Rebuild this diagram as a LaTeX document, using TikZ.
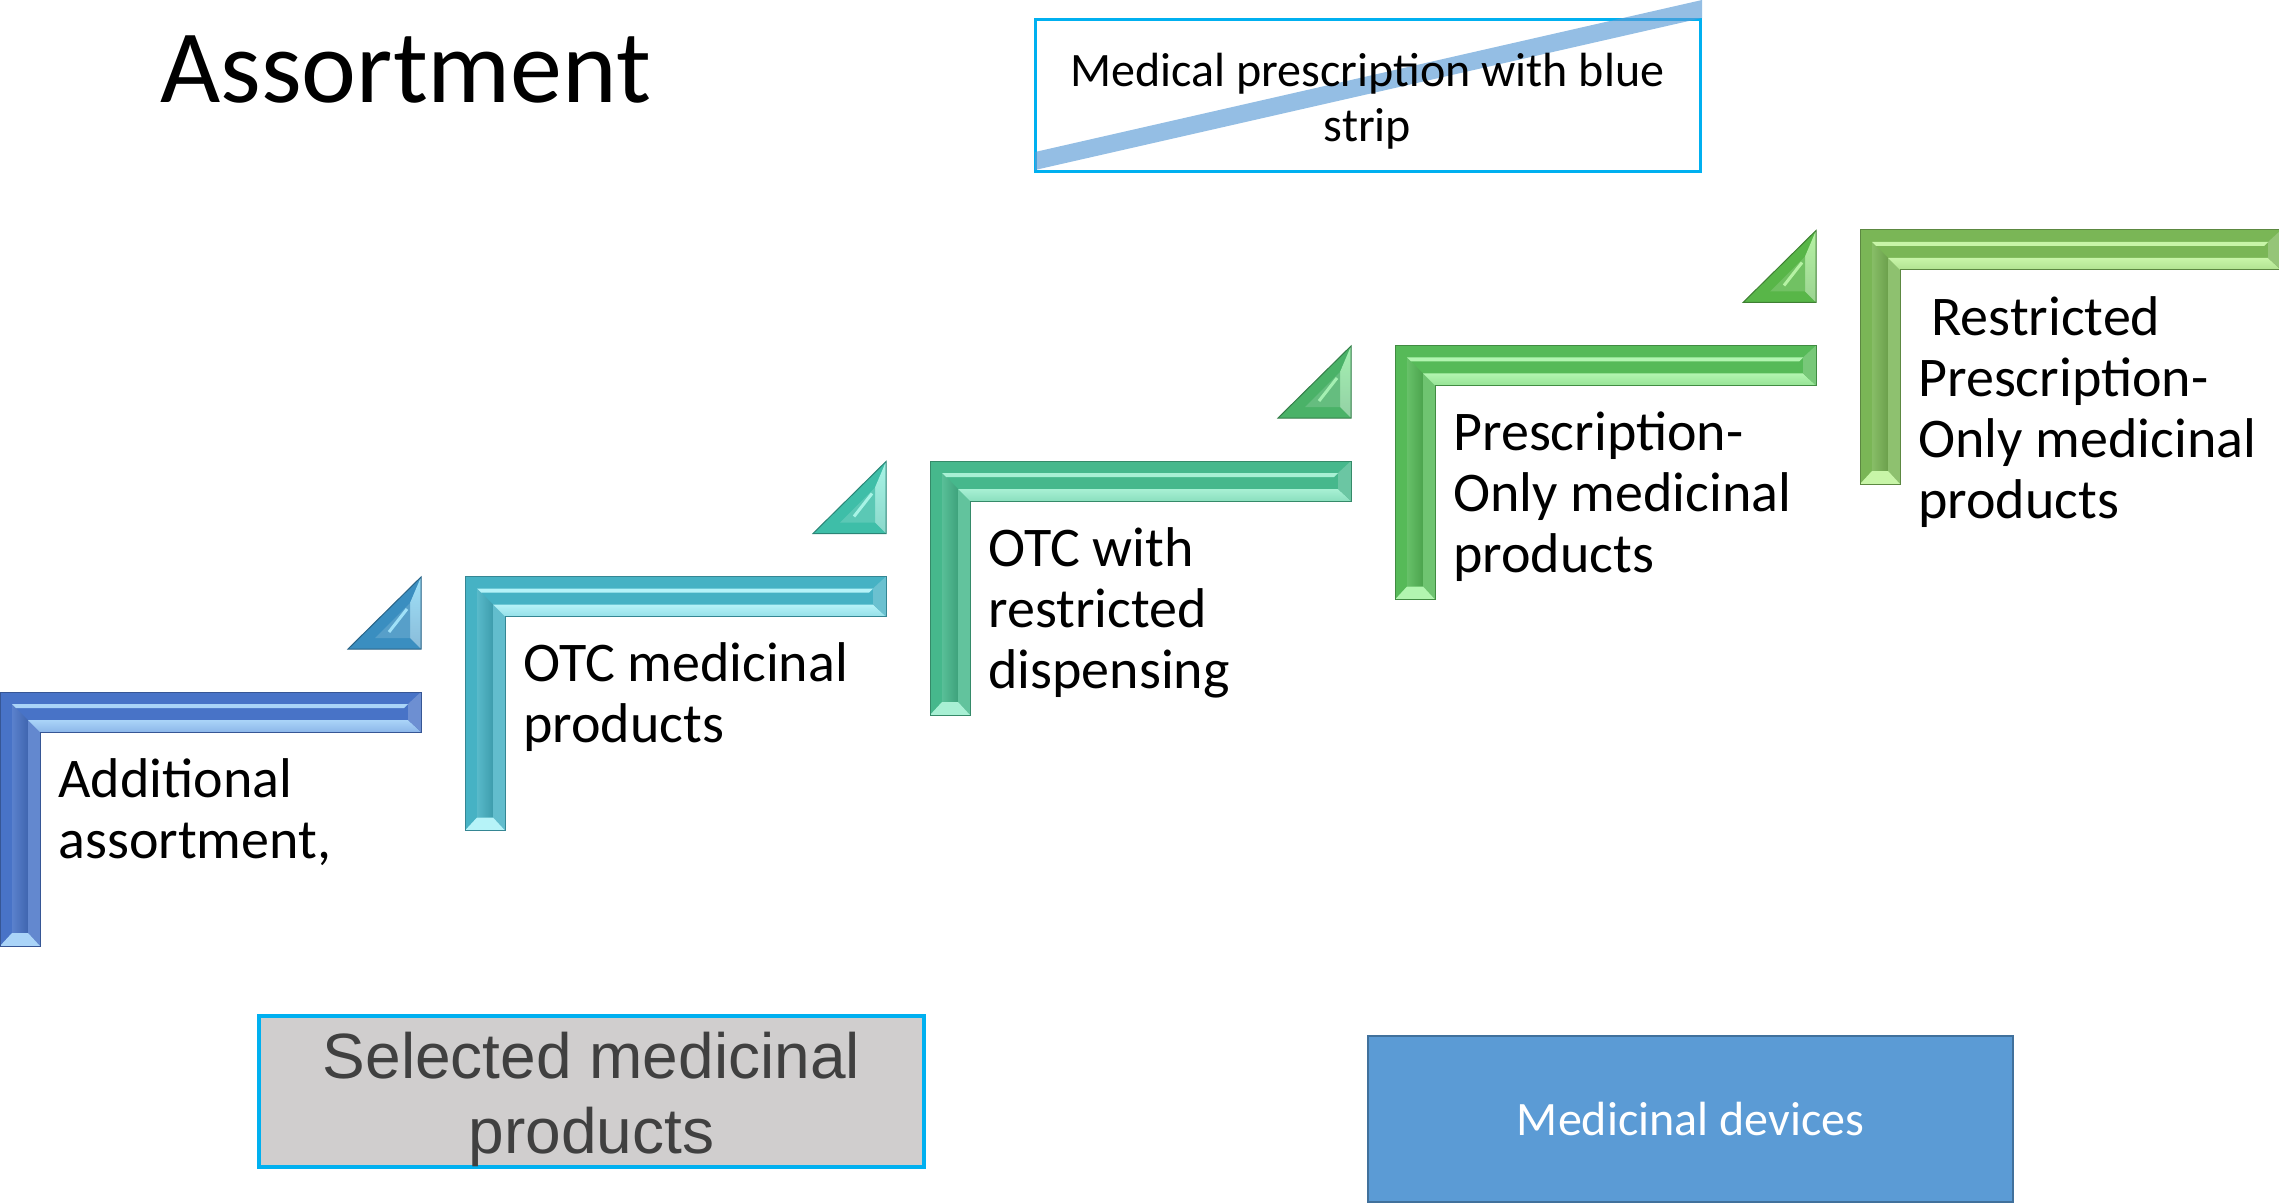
\documentclass[tikz,border=0pt]{standalone}
\usepackage{fontspec}
\setmainfont{Carlito}
\newfontfamily\selfont{Liberation Sans}

\definecolor{bluebase}{RGB}{72,115,199}
\definecolor{bluelite}{RGB}{170,212,248}
\definecolor{trione}{RGB}{58,142,192}
\definecolor{trionelite}{RGB}{160,225,248}
\definecolor{tealbase}{RGB}{70,178,196}
\definecolor{teallite}{RGB}{182,243,248}
\definecolor{tritwo}{RGB}{62,190,168}
\definecolor{tritwolite}{RGB}{168,244,230}
\definecolor{seabase}{RGB}{70,184,140}
\definecolor{sealite}{RGB}{168,240,212}
\definecolor{trithree}{RGB}{74,178,104}
\definecolor{trithreelite}{RGB}{165,240,178}
\definecolor{grnbase}{RGB}{86,186,88}
\definecolor{grnlite}{RGB}{178,245,176}
\definecolor{trifour}{RGB}{88,182,72}
\definecolor{trifourlite}{RGB}{182,242,164}
\definecolor{limebase}{RGB}{122,182,86}
\definecolor{limelite}{RGB}{200,245,168}
\definecolor{rxcyan}{RGB}{0,176,240}
\definecolor{stripblue}{RGB}{91,155,213}
\definecolor{selgray}{RGB}{208,206,206}
\definecolor{seltext}{RGB}{64,64,64}
\definecolor{devblue}{RGB}{91,155,213}
\definecolor{devedge}{RGB}{65,113,156}

\tikzset{
  steptext/.style={anchor=base west, align=left, inner sep=0pt, font=\fontsize{28}{30.5}\selectfont},
}

% one bevelled stair: left, top, base colour, light colour
\newcommand{\stairstep}[4]{%
  \begin{scope}[shift={(#1,#2)}]
    \fill[#3] (0,0) -- (421,0) -- (421,40) -- (40,40) -- (40,254) -- (0,254) -- cycle;
    \shade[left color=#3!90!white, right color=#3!88!black] (12,12) -- (28,28) -- (28,241) -- (12,241) -- cycle;
    \fill[#3!85!white] (28,28) -- (40,40) -- (40,254) -- (28,241) -- cycle;
    \fill[#4] (12,12) -- (408,12) -- (404,16) -- (16,16) -- cycle;
    \shade[top color=#4, bottom color=#4!70!#3] (28,28) -- (408,28) -- (421,40) -- (40,40) -- cycle;
    \fill[#3!80!white] (408,12) -- (421,0) -- (421,40) -- (408,28) -- cycle;
    \fill[#4] (12,241) -- (28,241) -- (40,254) -- (0,254) -- cycle;
    \draw[#3!75!black, line width=0.5pt] (0,0) -- (421,0) -- (421,40) -- (40,40) -- (40,254) -- (0,254) -- cycle;
  \end{scope}}

% one bevelled wedge: right, bottom, base colour, light colour
\newcommand{\stairtip}[4]{%
  \begin{scope}[shift={(#1,#2)}]
    \fill[#3] (-73,0) -- (0,0) -- (0,-72) -- cycle;
    \shade[top color=#4, bottom color=#3!60!white] (0,-72) -- (0,0) -- (-11,-11) -- (-11,-46) -- cycle;
    \fill[#3!85!white] (-46,-11) -- (-11,-11) -- (-11,-46) -- cycle;
    \draw[#4, line width=1.5pt] (-14,-40) -- (-32,-17);
    \draw[#3!70!black, line width=0.5pt] (-73,0) -- (0,0) -- (0,-72) -- cycle;
  \end{scope}}

\begin{document}
\begin{tikzpicture}[x=0.5pt,y=0.5pt,yscale=-1,xscale=1]
\useasboundingbox (0,0) rectangle (2279,1203);

% Text Node
\node (title) [anchor=base west, inner sep=0pt, font=\fontsize{52}{62}\selectfont] at (160,103) {Assortment};

%Shape: Rectangle
\node (rxbox) [draw=rxcyan, line width=1.5pt, minimum width=332.5pt, minimum height=76pt, inner sep=0pt] at (1367.5,96) {};
%Shape: Strip
\fill [stripblue, fill opacity=0.65] (1035,152) -- (1035,170) -- (1702,18) -- (1702,0) -- cycle;
% Text Node
\node (rxtxt) [align=center, inner sep=0pt, font=\fontsize{24}{27.5}\selectfont] at (1367.5,101) {Medical prescription with blue\\strip};

%Shape: Stairs
\stairstep{0}{692}{bluebase}{bluelite}
\stairstep{465}{576.5}{tealbase}{teallite}
\stairstep{930}{461}{seabase}{sealite}
\stairstep{1395}{345.5}{grnbase}{grnlite}
\stairstep{1860}{230}{limebase}{limelite}

%Shape: Wedges
\stairtip{421}{649}{trione}{trionelite}
\stairtip{886}{533.5}{tritwo}{tritwolite}
\stairtip{1351}{418}{trithree}{trithreelite}
\stairtip{1816}{302.5}{trifour}{trifourlite}

% Text Node (anchored at the last line)
\node (addtxt) [steptext] at (58,858) {Additional\\assortment,};
% Text Node
\node (otctxt) [steptext] at (523,742.5) {OTC medicinal\\products};
% Text Node
\node (otcrtxt) [steptext] at (988,688) {OTC with\\restricted\\dispensing};
% Text Node
\node (pomtxt) [steptext] at (1453,572.5) {Prescription-\\Only medicinal\\products};
% Text Node
\node (rpomtxt) [steptext] at (1918,518) {\hspace*{6.5pt}Restricted\\Prescription-\\Only medicinal\\products};

%Shape: Rectangle
\node (selbox) [draw=rxcyan, line width=2pt, fill=selgray, minimum width=332.5pt, minimum height=75.5pt, inner sep=0pt] at (591.5,1091.5) {};
% Text Node
\node (seltxt) [align=center, inner sep=0pt, text=seltext, font=\selfont\fontsize{32}{37.5}\selectfont] at (591.5,1099) {Selected medicinal\\products};

%Shape: Rectangle
\node (devbox) [draw=devedge, line width=0.75pt, fill=devblue, text=white, font=\fontsize{24}{29}\selectfont, minimum width=322.5pt, minimum height=83pt, inner sep=0pt] at (1690.5,1119) {Medicinal devices};

\end{tikzpicture}
\end{document}
